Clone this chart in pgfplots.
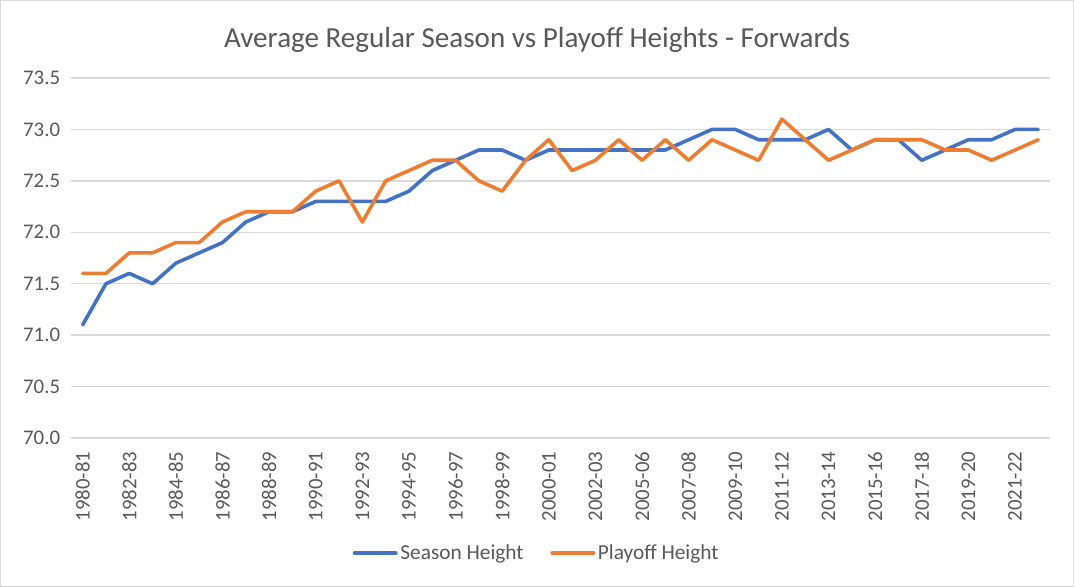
\documentclass[border=0pt]{standalone}
\usepackage{pgfplots}
\pgfplotsset{compat=1.18}
\usepackage{pgfplotstable}
\usepackage{fontspec}
\setmainfont{Carlito}

\definecolor{seasonblue}{HTML}{4472C4}
\definecolor{playofforange}{HTML}{ED7D31}
\definecolor{gridgray}{HTML}{D9D9D9}
\definecolor{textgray}{HTML}{595959}

% idx: season index (2004-05 lockout skipped)
\pgfplotstableread{
idx season playoff
0  71.1 71.6
1  71.5 71.6
2  71.6 71.8
3  71.5 71.8
4  71.7 71.9
5  71.8 71.9
6  71.9 72.1
7  72.1 72.2
8  72.2 72.2
9  72.2 72.2
10 72.3 72.4
11 72.3 72.5
12 72.3 72.1
13 72.3 72.5
14 72.4 72.6
15 72.6 72.7
16 72.7 72.7
17 72.8 72.5
18 72.8 72.4
19 72.7 72.7
20 72.8 72.9
21 72.8 72.6
22 72.8 72.7
23 72.8 72.9
24 72.8 72.7
25 72.8 72.9
26 72.9 72.7
27 73.0 72.9
28 73.0 72.8
29 72.9 72.7
30 72.9 73.1
31 72.9 72.9
32 73.0 72.7
33 72.8 72.8
34 72.9 72.9
35 72.9 72.9
36 72.7 72.9
37 72.8 72.8
38 72.9 72.8
39 72.9 72.7
40 73.0 72.8
41 73.0 72.9
}\heights

\begin{document}
\begin{tikzpicture}
% chart area, 1 px = 0.75bp
\draw[gridgray, line width=1bp, fill=white] (0.5bp,0.5bp) rectangle (805bp,439.75bp);
\node[text=textgray, font=\fontsize{21.8bp}{26bp}\selectfont] at (402.75bp,410.5bp)
  {Average Regular Season vs Playoff Heights - Forwards};
\begin{axis}[
    at={(53.25bp,111.75bp)}, anchor=south west,
    scale only axis,
    width=734.25bp, height=270bp,
    xmin=-0.5, xmax=41.5,
    ymin=70, ymax=73.5,
    ytick={70,70.5,71,71.5,72,72.5,73,73.5},
    xtick={0,2,...,40},
    xticklabels={1980-81,1982-83,1984-85,1986-87,1988-89,1990-91,1992-93,1994-95,
      1996-97,1998-99,2000-01,2002-03,2005-06,2007-08,2009-10,2011-12,2013-14,
      2015-16,2017-18,2019-20,2021-22},
    axis x line*=bottom, axis y line*=left,
    x axis line style={gridgray, line width=1bp, -},
    y axis line style={draw=none},
    ymajorgrids=true,
    grid style={gridgray, line width=1bp},
    major tick length=0pt,
    tick label style={text=textgray, font=\fontsize{15.6bp}{18bp}\selectfont},
    /pgf/number format/assume math mode=true,
    yticklabel={\pgfmathprintnumber[fixed, fixed zerofill, precision=1]{\tick}},
    yticklabel style={anchor=east, inner ysep=0pt, inner xsep=8bp},
    xticklabel style={rotate=90, anchor=east, inner ysep=0pt, inner xsep=10bp},
    legend columns=2,
    legend style={at={(0.476,-0.319)}, anchor=center, draw=none, fill=none,
      text=textgray, font=\fontsize{16bp}{18bp}\selectfont,
      /tikz/every even column/.append style={column sep=18bp}},
    legend image code/.code={\draw[#1, line cap=round] (0bp,0bp) -- (31bp,0bp);},
  ]
  \addplot[seasonblue, line width=2.7bp, line join=round, line cap=round] table[x=idx, y=season] {\heights};
  \addlegendentry{Season Height}
  \addplot[playofforange, line width=2.7bp, line join=round, line cap=round] table[x=idx, y=playoff] {\heights};
  \addlegendentry{Playoff Height}
\end{axis}
\end{tikzpicture}
\end{document}
